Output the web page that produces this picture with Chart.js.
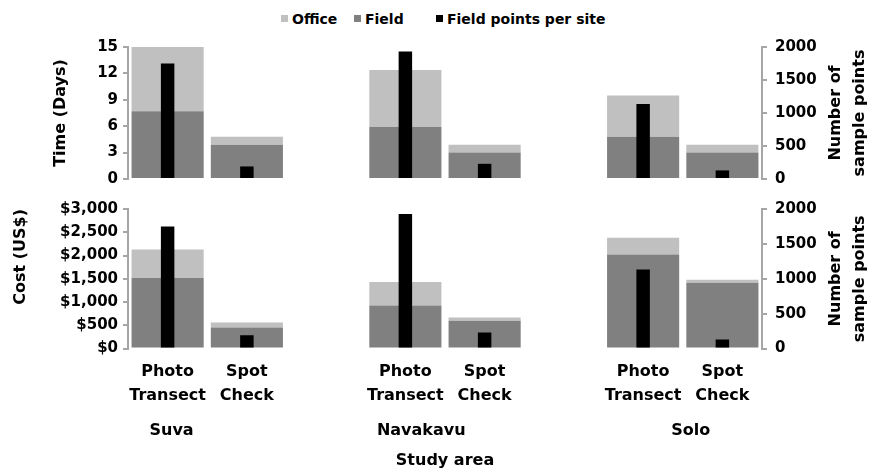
<!DOCTYPE html>
<html>
<head>
<meta charset="utf-8">
<script src="https://cdn.jsdelivr.net/npm/chart.js@4"></script>
<style>
  html, body { margin: 0; padding: 0; background: #fff; }
  #wrap { position: relative; width: 872px; height: 472px; font-family: 'DejaVu Sans', sans-serif; font-weight: bold; }
  #timeBox { position: absolute; left: 0; top: 30px; width: 872px; height: 166px; }
  #costBox { position: absolute; left: 0; top: 190px; width: 872px; height: 282px; }
  .leg { position: absolute; top: 11px; font-size: 14px; color: #000; white-space: nowrap; }
  .leg i { display: inline-block; width: 7px; height: 7px; margin-right: 4px; vertical-align: 2px; }
</style>
</head>
<body>
<div id="wrap">
  <span class="leg" style="left:281px"><i style="background:#c0c0c0"></i>Office</span>
  <span class="leg" style="left:354px"><i style="background:#808080"></i>Field</span>
  <span class="leg" style="left:436px"><i style="background:#000"></i>Field points per site</span>
  <div id="timeBox"><canvas id="timeChart"></canvas></div>
  <div id="costBox"><canvas id="costChart"></canvas></div>
</div>
<script>
// categories: two methods per site, blank slot between sites
const categories = [['Photo', 'Transect'], ['Spot', 'Check'], '', ['Photo', 'Transect'], ['Spot', 'Check'], '', ['Photo', 'Transect'], ['Spot', 'Check']];
const sites = ['Suva', 'Navakavu', 'Solo'];
const siteAt = [0.05, 3.2, 6.6];

// time (days)
const timeField = [7.7, 3.9, null, 5.9, 3.0, null, 4.8, 3.0];
const timeOffice = [7.3, 0.9, null, 6.5, 0.9, null, 4.7, 0.9];
// cost (US$)
const costField = [1515, 455, null, 925, 600, null, 2020, 1415];
const costOffice = [615, 105, null, 505, 70, null, 360, 65];
// sample points per site
const fieldPoints = [1750, 190, null, 1930, 230, null, 1135, 130];

const timeTicks = [0, 3, 6, 9, 12, 15];
const costTicks = [0, 500, 1000, 1500, 2000, 2500, 3000];
const pointTicks = [0, 500, 1000, 1500, 2000];

Chart.defaults.font.family = "'DejaVu Sans', sans-serif";
Chart.defaults.font.weight = 'bold';
Chart.defaults.font.size = 15;
Chart.defaults.color = '#000';

const axisGray = '#a6a6a6';

// right axis title reads bottom-to-top like the left one
const rightTitle = {
  id: 'rightTitle',
  afterDraw(chart) {
    const ctx = chart.ctx;
    const a = chart.chartArea;
    const r = chart.scales.y1.right;
    ctx.save();
    ctx.font = "bold 16px 'DejaVu Sans', sans-serif";
    ctx.fillStyle = '#000';
    ctx.textAlign = 'center';
    ctx.textBaseline = 'middle';
    ['Number of', 'sample points'].forEach((line, i) => {
      ctx.save();
      ctx.translate(r - 36 + i * 24, (a.top + a.bottom) / 2);
      ctx.rotate(-Math.PI / 2);
      ctx.fillText(line, 0, 0);
      ctx.restore();
    });
    ctx.restore();
  }
};

function yAxis(title, ticks, fmt, boxWidth, align) {
  return {
    position: 'left',
    stacked: true,
    min: ticks[0],
    max: ticks[ticks.length - 1],
    afterBuildTicks: s => { s.ticks = ticks.map(v => ({ value: v })); },
    afterFit: s => { s.width = boxWidth; },
    grid: { drawOnChartArea: false, color: axisGray, lineWidth: 2, tickLength: 5 },
    border: { color: axisGray, width: 2 },
    ticks: { padding: 5, autoSkip: false, callback: fmt },
    title: { display: true, text: title, align: align, font: { size: 16 } }
  };
}

function pointsAxis() {
  return {
    position: 'right',
    min: 0,
    max: 2000,
    afterBuildTicks: s => { s.ticks = pointTicks.map(v => ({ value: v })); },
    afterFit: s => { s.width = 110; },
    grid: { drawOnChartArea: false, color: axisGray, lineWidth: 2, tickLength: 5 },
    border: { color: axisGray, width: 2 },
    ticks: { padding: 8, autoSkip: false, callback: v => String(v) }
  };
}

function datasets(field, office) {
  return [
    { label: 'Field', data: field, backgroundColor: '#808080', order: 1 },
    { label: 'Office', data: office, backgroundColor: '#c0c0c0', order: 1 },
    { label: 'Field points per site', data: fieldPoints, backgroundColor: '#000',
      yAxisID: 'y1', stack: 'points', barPercentage: 0.17, order: 0 }
  ];
}

const common = {
  responsive: true,
  maintainAspectRatio: false,
  animation: false,
  grouped: false,
  categoryPercentage: 1,
  barPercentage: 0.91,
  plugins: { legend: { display: false }, tooltip: { enabled: false } }
};

new Chart(document.getElementById('timeChart'), {
  type: 'bar',
  data: { labels: categories, datasets: datasets(timeField, timeOffice) },
  plugins: [rightTitle],
  options: {
    ...common,
    layout: { padding: { left: 47, right: 0, top: 15, bottom: 5 } },
    scales: {
      x: { stacked: true, z: 1, grid: { display: false, drawTicks: false },
           border: { color: 'rgba(255,255,255,0.45)', width: 3 }, ticks: { display: false } },
      y: yAxis('Time (Days)', timeTicks, v => v, 81, 'center'),
      y1: pointsAxis()
    }
  }
});

new Chart(document.getElementById('costChart'), {
  type: 'bar',
  data: { labels: categories, datasets: datasets(costField, costOffice) },
  plugins: [rightTitle],
  options: {
    ...common,
    layout: { padding: { left: 7, right: 0, top: 19, bottom: 2 } },
    scales: {
      x: { stacked: true, z: 1, grid: { display: false, drawTicks: false },
           border: { color: 'rgba(255,255,255,0.45)', width: 3 },
           ticks: { font: { size: 16, lineHeight: 1.5 }, padding: 11, maxRotation: 0, autoSkip: false } },
      xg: {
        type: 'linear', position: 'bottom', min: -0.5, max: 7.5, offset: false,
        afterBuildTicks: s => { s.ticks = siteAt.map(v => ({ value: v })); },
        grid: { display: false, drawTicks: false }, border: { display: false },
        ticks: { font: { size: 16 }, padding: 3, maxRotation: 0, autoSkip: false,
                 callback: (v, i) => sites[i] },
        title: { display: true, text: 'Study area', font: { size: 16 }, padding: { top: 7, bottom: 0 } }
      },
      y: yAxis('Cost (US$)', costTicks, v => '$' + v.toLocaleString('en-US'), 121, 'end'),
      y1: pointsAxis()
    }
  }
});
</script>
</body>
</html>
